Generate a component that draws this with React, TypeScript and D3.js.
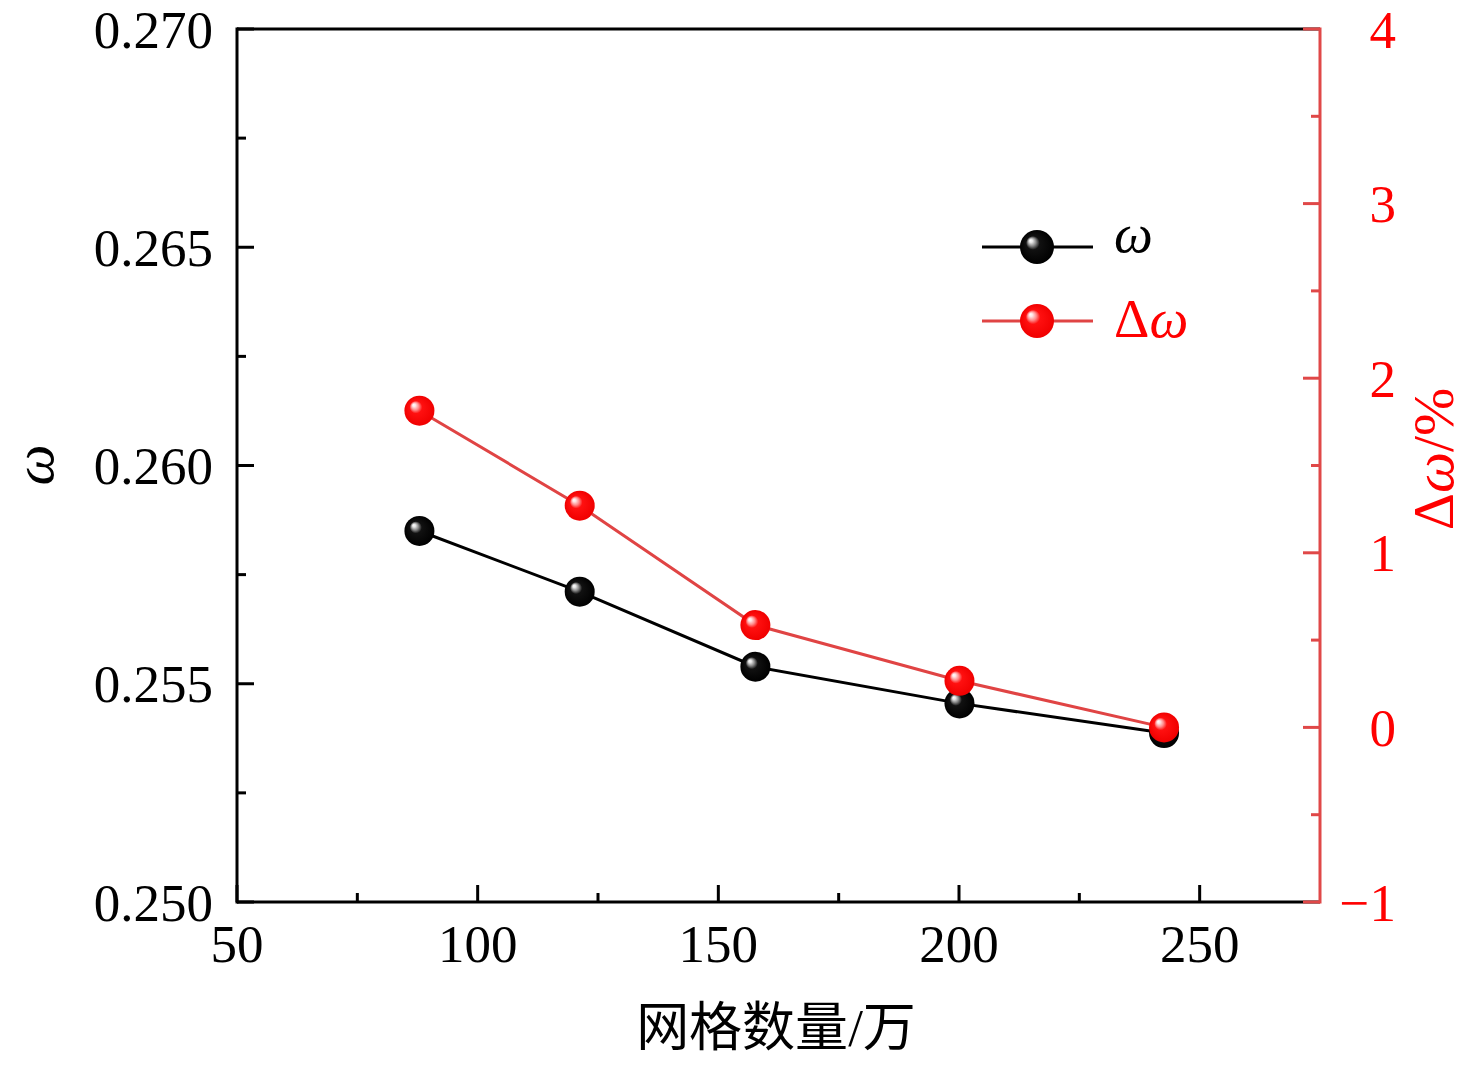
import * as d3 from 'd3'

// mesh count (万) and results
const meshCounts = [87.9, 121.2, 157.7, 200.1, 242.6]
const omegaValues = [0.2585, 0.25711, 0.25539, 0.25455, 0.25387]
const deltaValues = [1.814, 1.27, 0.586, 0.267, 0.0]

const xTicks = [50, 100, 150, 200, 250]
const leftTicks = [0.25, 0.255, 0.26, 0.265, 0.27]
const rightTicks = [-1, 0, 1, 2, 3, 4]

const W = 1476
const H = 1066
const M = { left: 237, right: 1320, top: 29, bottom: 902 }

const RED_AXIS = '#e04848'
const RED_LINE = '#e04444'
const SERIF = '"Liberation Serif", "Times New Roman", serif'
const CJK = '"Noto Sans CJK SC", "Noto Sans CJK JP", sans-serif'
const FS = 53
const TITLE_FS = 58

function midpoints(ticks: number[]) {
  return ticks.slice(1).map((t, i) => (t + ticks[i]) / 2)
}

export default function App() {
  const x = d3.scaleLinear().domain([50, 275]).range([M.left, M.right])
  const yL = d3.scaleLinear().domain([0.25, 0.27]).range([M.bottom, M.top])
  const yR = d3.scaleLinear().domain([-1, 4]).range([M.bottom, M.top])

  const omegaPts = meshCounts.map((m, i) => [x(m), yL(omegaValues[i])] as [number, number])
  const deltaPts = meshCounts.map((m, i) => [x(m), yR(deltaValues[i])] as [number, number])
  const line = d3.line()

  const xMinor = midpoints(xTicks)
  const leftMinor = midpoints(leftTicks)
  const rightMinor = midpoints(rightTicks)

  return (
    <svg
      width={W}
      height={H}
      viewBox={`0 0 ${W} ${H}`}
      style={{ position: 'absolute', left: 0, top: 0, background: '#fff' }}
    >
      <defs>
        <radialGradient id="ballBlack" cx="0.5" cy="0.5" r="0.5" fx="0.3" fy="0.3">
          <stop offset="0" stopColor="#ffffff" />
          <stop offset="0.1" stopColor="#e6e6e6" />
          <stop offset="0.24" stopColor="#8a8a8a" />
          <stop offset="0.4" stopColor="#111111" />
          <stop offset="1" stopColor="#000000" />
        </radialGradient>
        <radialGradient id="ballRed" cx="0.5" cy="0.5" r="0.5" fx="0.3" fy="0.3">
          <stop offset="0" stopColor="#ffffff" />
          <stop offset="0.1" stopColor="#ffe6e6" />
          <stop offset="0.26" stopColor="#ff8a8a" />
          <stop offset="0.42" stopColor="#ff1010" />
          <stop offset="1" stopColor="#f00000" />
        </radialGradient>
      </defs>

      {/* frame */}
      <line x1={M.left} x2={M.right} y1={M.top} y2={M.top} stroke="#000" strokeWidth={3} />
      <line x1={M.left} x2={M.right} y1={M.bottom} y2={M.bottom} stroke="#000" strokeWidth={3} />
      <line x1={M.left} x2={M.left} y1={M.top - 1.5} y2={M.bottom + 1.5} stroke="#000" strokeWidth={3} />

      {/* bottom axis */}
      {xTicks.map((t) => (
        <g key={`x${t}`}>
          <line x1={x(t)} x2={x(t)} y1={M.bottom} y2={M.bottom - 17} stroke="#000" strokeWidth={3} />
          <text x={x(t)} y={962} textAnchor="middle" fontFamily={SERIF} fontSize={FS}>
            {t}
          </text>
        </g>
      ))}
      {xMinor.map((t) => (
        <line key={`xm${t}`} x1={x(t)} x2={x(t)} y1={M.bottom} y2={M.bottom - 9} stroke="#000" strokeWidth={3} />
      ))}

      {/* left axis */}
      {leftTicks.map((t) => (
        <g key={`l${t}`}>
          <line x1={M.left} x2={M.left + 17} y1={yL(t)} y2={yL(t)} stroke="#000" strokeWidth={3} />
          <text
            x={213}
            y={yL(t)}
            dy="0.35em"
            textAnchor="end"
            fontFamily={SERIF}
            fontSize={FS}
          >
            {d3.format('.3f')(t)}
          </text>
        </g>
      ))}
      {leftMinor.map((t) => (
        <line key={`lm${t}`} x1={M.left} x2={M.left + 9} y1={yL(t)} y2={yL(t)} stroke="#000" strokeWidth={3} />
      ))}

      {/* right axis */}
      <line x1={M.right} x2={M.right} y1={M.top - 1.5} y2={M.bottom + 1.5} stroke={RED_AXIS} strokeWidth={3} />
      {rightTicks.map((t) => (
        <g key={`r${t}`}>
          <line x1={M.right} x2={M.right - 17} y1={yR(t)} y2={yR(t)} stroke={RED_AXIS} strokeWidth={3} />
          <text
            x={1396}
            y={yR(t)}
            dy="0.35em"
            textAnchor="end"
            fontFamily={SERIF}
            fontSize={FS}
            fill="#ff0000"
          >
            {t < 0 ? `\u2212${Math.abs(t)}` : t}
          </text>
        </g>
      ))}
      {rightMinor.map((t) => (
        <line key={`rm${t}`} x1={M.right} x2={M.right - 9} y1={yR(t)} y2={yR(t)} stroke={RED_AXIS} strokeWidth={3} />
      ))}

      {/* axis titles */}
      <text x={776} y={1046} textAnchor="middle" fontSize={FS} fontFamily={CJK}>
        <tspan fontFamily={CJK}>网格数量</tspan>
        <tspan fontFamily={SERIF}>/</tspan>
        <tspan fontFamily={CJK}>万</tspan>
      </text>
      <text
        transform={`translate(53 465) rotate(-90)`}
        textAnchor="middle"
        fontFamily={SERIF}
        fontStyle="italic"
        fontSize={TITLE_FS}
      >
        ω
      </text>
      <text
        transform={`translate(1453 459) rotate(-90)`}
        textAnchor="middle"
        fontFamily={SERIF}
        fontSize={TITLE_FS}
        fill="#ff0000"
      >
        Δ<tspan fontStyle="italic">ω</tspan>/%
      </text>

      {/* ω series */}
      <path d={line(omegaPts) ?? ''} fill="none" stroke="#000" strokeWidth={3} />
      {omegaPts.map(([px, py], i) => (
        <circle key={`o${i}`} cx={px} cy={py} r={15} fill="url(#ballBlack)" />
      ))}

      {/* Δω series */}
      <path d={line(deltaPts) ?? ''} fill="none" stroke={RED_LINE} strokeWidth={3} />
      {deltaPts.map(([px, py], i) => (
        <circle key={`d${i}`} cx={px} cy={py} r={15} fill="url(#ballRed)" />
      ))}

      {/* legend */}
      <g>
        <line x1={982} x2={1093} y1={247} y2={247} stroke="#000" strokeWidth={3} />
        <circle cx={1037} cy={247} r={17} fill="url(#ballBlack)" />
        <text x={1114} y={252} fontFamily={SERIF} fontStyle="italic" fontSize={55}>
          ω
        </text>
        <line x1={982} x2={1093} y1={321} y2={321} stroke={RED_LINE} strokeWidth={3} />
        <circle cx={1037} cy={321} r={17} fill="url(#ballRed)" />
        <text x={1114} y={337} fontFamily={SERIF} fontSize={55} fill="#ff0000">
          Δ<tspan fontStyle="italic">ω</tspan>
        </text>
      </g>
    </svg>
  )
}
